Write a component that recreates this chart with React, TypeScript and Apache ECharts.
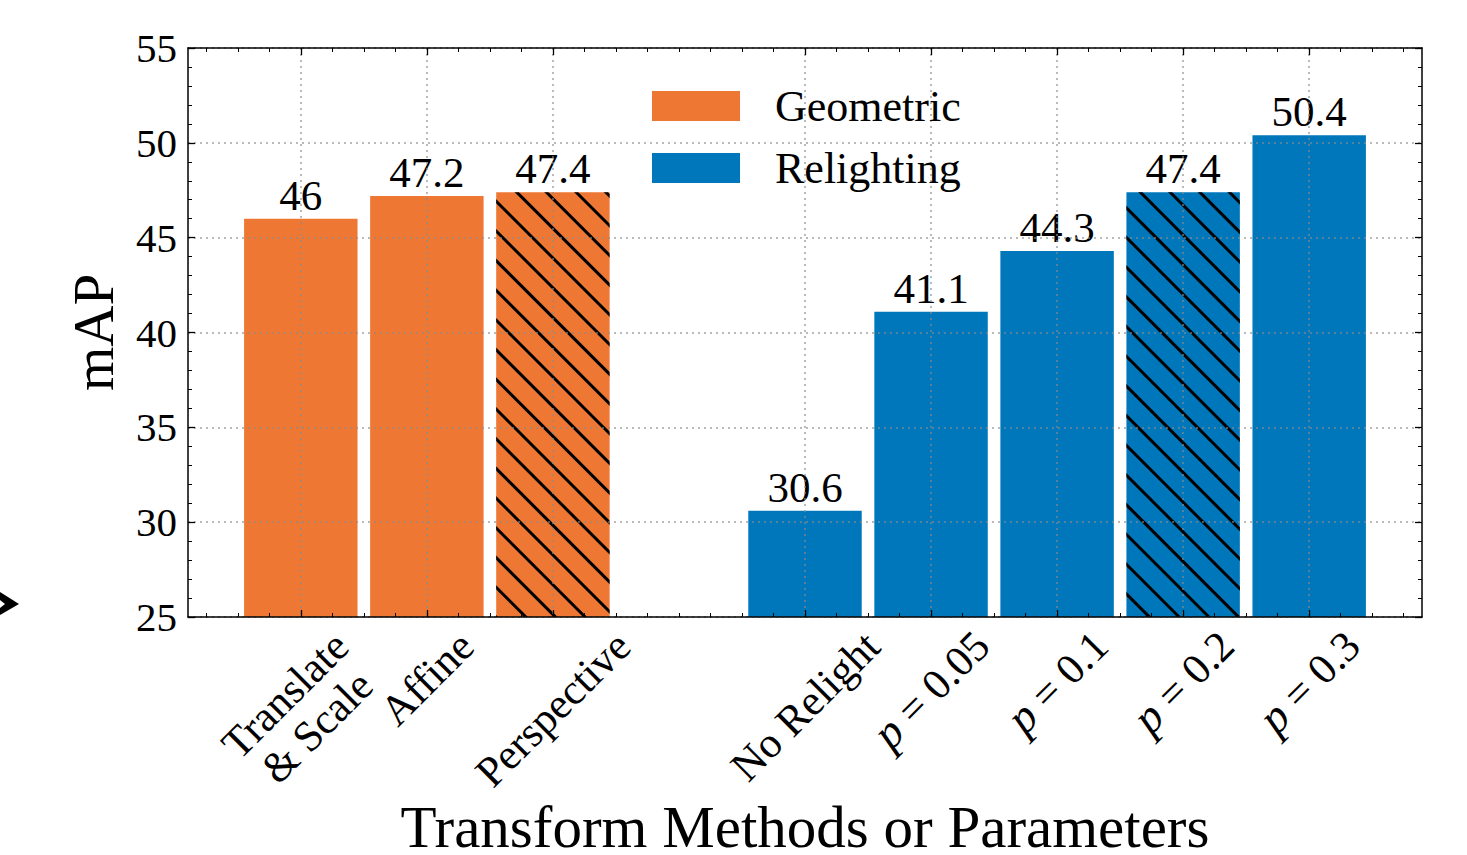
import React, { useEffect, useRef } from 'react';
import * as echarts from 'echarts';

// ---- data ----
const categoryLabels = ['Translate\n& Scale', 'Affine', 'Perspective', 'No Relight', 'p|= 0.05', 'p|= 0.1', 'p|= 0.2', 'p|= 0.3'];
const categoryPositions = [0, 1, 2, 4, 5, 6, 7, 8];
const geometricPositions = [0, 1, 2];
const geometricValues = [46, 47.2, 47.4];
const geometricHatched = [false, false, true];
const relightingPositions = [4, 5, 6, 7, 8];
const relightingValues = [30.6, 41.1, 44.3, 47.4, 50.4];
const relightingHatched = [false, false, false, true, false];
const seriesNames = ['Geometric', 'Relighting'];
const yMin = 25;
const yMax = 55;
const yInterval = 5;
const xMin = -0.895;
const xMax = 8.895;
const xMinorStep = 0.25;

const FONT = '"Liberation Serif", "Times New Roman", "DejaVu Serif", serif';
const ORANGE = '#EE7733';
const BLUE = '#0077BB';
const GRID_COLOR = 'rgba(140,140,140,0.6)';

const minorPositions: number[] = [];
for (let v = Math.ceil(xMin / xMinorStep) * xMinorStep; v <= xMax; v += xMinorStep) {
  minorPositions.push(Math.round(v * 100) / 100);
}

const hatchDecal = {
  symbol: 'rect',
  symbolSize: 1,
  dashArrayX: [1, 0],
  dashArrayY: [2.2, 17.8],
  rotation: Math.PI / 4,
  color: '#000',
};

function buildData(pos: number[], vals: number[], hatched: boolean[]) {
  return pos.map((p, i) => {
    const item: any = { value: [p, vals[i]] };
    if (hatched[i]) item.itemStyle = { decal: hatchDecal };
    return item;
  });
}

export default function App() {
  const ref = useRef<HTMLDivElement>(null);

  useEffect(() => {
    if (!ref.current) return;
    const chart = echarts.init(ref.current, undefined, { renderer: 'svg' });

    const axisLineStyle = { color: '#000', width: 1.5 };
    const majorTick = (vals: number[] | undefined) => ({
      show: true,
      inside: true,
      length: 7,
      lineStyle: { color: '#000', width: 1.3 },
      ...(vals ? { customValues: vals } : {}),
    });
    const minorTickStyle = (vals: number[]) => ({
      show: true,
      inside: true,
      length: 4,
      customValues: vals,
      lineStyle: { color: '#000', width: 1 },
    });
    const gridLine = { show: true, lineStyle: { color: GRID_COLOR, width: 2, type: [2, 4] } };

    const labelCommon = {
      show: true,
      position: 'top',
      distance: 2,
      fontSize: 43,
      fontFamily: FONT,
      color: '#000',
      formatter: (p: any) => String(p.value[1]),
    };

    const option: any = {
      animation: false,
      backgroundColor: '#fff',
      grid: { left: 188, top: 48, right: 45, bottom: 238, containLabel: false, outerBoundsMode: 'none' },
      legend: {
        left: 647,
        top: 79,
        orient: 'vertical',
        itemWidth: 88,
        itemHeight: 30,
        itemGap: 18,
        icon: 'rect',
        data: seriesNames,
        textStyle: { fontSize: 44, fontFamily: FONT, color: '#000', padding: [0, 0, 0, 30], lineHeight: 44 },
      },
      xAxis: [
        {
          type: 'value', min: xMin, max: xMax, position: 'bottom', z: 3,
          axisLine: { show: true, onZero: false, lineStyle: axisLineStyle },
          axisTick: majorTick(categoryPositions),
          axisLabel: { show: false },
          splitLine: gridLine,
          name: 'Transform Methods or Parameters',
          nameLocation: 'middle',
          nameGap: 180,
          nameTextStyle: { fontSize: 59, fontFamily: FONT, color: '#000' },
        },
        {
          type: 'value', min: xMin, max: xMax, position: 'bottom', z: 3,
          axisLine: { show: false, onZero: false }, axisTick: minorTickStyle(minorPositions),
          axisLabel: { show: false }, splitLine: { show: false },
        },
        {
          type: 'value', min: xMin, max: xMax, position: 'top', z: 3,
          axisLine: { show: true, onZero: false, lineStyle: axisLineStyle },
          axisTick: majorTick(categoryPositions),
          axisLabel: { show: false }, splitLine: { show: false },
        },
        {
          type: 'value', min: xMin, max: xMax, position: 'top', z: 3,
          axisLine: { show: false, onZero: false }, axisTick: minorTickStyle(minorPositions),
          axisLabel: { show: false }, splitLine: { show: false },
        },
      ],
      yAxis: [
        {
          type: 'value', min: yMin, max: yMax, interval: yInterval, position: 'left', z: 3,
          axisLine: { show: true, onZero: false, lineStyle: axisLineStyle },
          axisTick: majorTick(undefined),
          minorTick: { show: true, splitNumber: 5, length: 4, lineStyle: { color: '#000', width: 1 } },
          axisLabel: { show: true, fontSize: 41, fontFamily: FONT, color: '#000', margin: 11 },
          splitLine: gridLine,
          name: 'mAP',
          nameLocation: 'middle',
          nameGap: 66,
          nameTextStyle: { fontSize: 57, fontFamily: FONT, color: '#000' },
        },
        {
          type: 'value', min: yMin, max: yMax, interval: yInterval, position: 'right', z: 3,
          axisLine: { show: true, onZero: false, lineStyle: axisLineStyle },
          axisTick: majorTick(undefined),
          minorTick: { show: true, splitNumber: 5, length: 4, lineStyle: { color: '#000', width: 1 } },
          axisLabel: { show: false },
          splitLine: { show: false },
        },
      ],
      series: [
        {
          name: seriesNames[0], type: 'bar', xAxisIndex: 0, yAxisIndex: 0,
          barWidth: 113, barGap: '-100%',
          itemStyle: { color: ORANGE },
          label: labelCommon,
          data: buildData(geometricPositions, geometricValues, geometricHatched),
        },
        {
          name: seriesNames[1], type: 'bar', xAxisIndex: 0, yAxisIndex: 0,
          barWidth: 113, barGap: '-100%',
          itemStyle: { color: BLUE },
          label: labelCommon,
          data: buildData(relightingPositions, relightingValues, relightingHatched),
        },
      ],
    };
    chart.setOption(option);

    // bar width = 0.9 data units
    const unit = (chart.convertToPixel({ xAxisIndex: 0 }, 1) as number) - (chart.convertToPixel({ xAxisIndex: 0 }, 0) as number);
    const bw = unit * 0.9;

    // rotated category labels, bbox centred under each tick (matplotlib style)
    const fontSize = 43;
    const lineH = 45;
    const canvas = document.createElement('canvas');
    const ctx = canvas.getContext('2d')!;
    const measure = (t: string, italic = false) => {
      ctx.font = `${italic ? 'italic ' : ''}${fontSize}px ${FONT}`;
      return ctx.measureText(t).width;
    };
    const axisY = chart.convertToPixel({ yAxisIndex: 0 }, yMin) as number;
    const pad = 6;
    const graphics: any[] = categoryLabels.map((lab, i) => {
      const x = chart.convertToPixel({ xAxisIndex: 0 }, categoryPositions[i]) as number;
      let L: number;
      let lines = 1;
      let style: any;
      if (lab.indexOf('|') >= 0) {
        const [pp, rest] = lab.split('|');
        L = measure(pp, true) + measure(' ' + rest);
        style = {
          text: `{i|${pp}}{n| ${rest}}`,
          rich: {
            i: { fontSize: fontSize + 3, fontFamily: FONT, fontStyle: 'italic', fill: '#000' },
            n: { fontSize, fontFamily: FONT, fill: '#000' },
          },
        };
      } else {
        const parts = lab.split('\n');
        lines = parts.length;
        L = Math.max(...parts.map((p) => measure(p)));
        style = { text: lab, fontSize, fontFamily: FONT, fill: '#000', lineHeight: lineH };
      }
      const H = lines * fontSize * 1.05;
      const half = (L + H) / (2 * Math.SQRT2);
      return {
        type: 'text',
        x,
        y: axisY + pad + half,
        rotation: Math.PI / 4,
        z: 10,
        style: { ...style, align: 'center', verticalAlign: 'middle', textAlign: 'center', textVerticalAlign: 'middle' },
      };
    });
    graphics.push({
      type: 'polygon',
      shape: { points: [[0, 592], [19, 604], [0, 615]] },
      style: { fill: '#000' },
    });
    graphics.push({
      type: 'polygon',
      shape: { points: [[0, 600], [5, 604], [0, 608]] },
      style: { fill: '#fff' },
    });

    chart.setOption({
      series: [{ barWidth: bw }, { barWidth: bw }],
      graphic: graphics,
    });

    return () => chart.dispose();
  }, []);

  return <div ref={ref} style={{ position: 'fixed', left: 0, top: 0, width: 1467, height: 855 }} />;
}
